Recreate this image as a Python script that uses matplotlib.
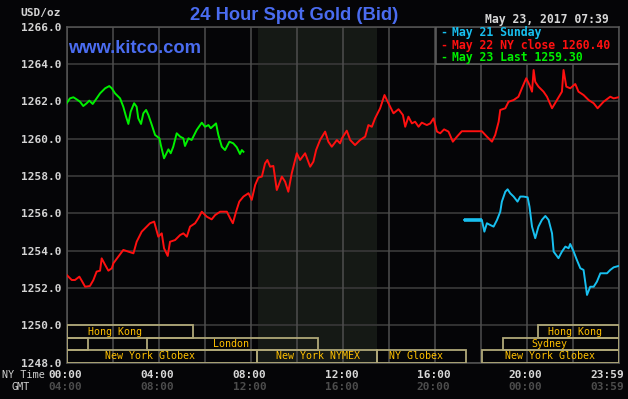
import matplotlib
matplotlib.use("Agg")
import matplotlib.pyplot as plt
from matplotlib.patches import Rectangle
import matplotlib.transforms as mtransforms

# ---------------- data ----------------
green_h = [0, 0.14, 0.29, 0.43, 0.58, 0.72, 0.87, 0.98, 1.13, 1.30, 1.45, 1.67, 1.85, 1.96,
           2.10, 2.32, 2.46, 2.58, 2.68, 2.78, 2.93, 3.04, 3.11, 3.23, 3.33, 3.45, 3.55, 3.70,
           3.84, 4.03, 4.09, 4.23, 4.42, 4.52, 4.63, 4.78, 4.93, 5.07, 5.14, 5.29, 5.43, 5.65,
           5.87, 6.01, 6.16, 6.26, 6.49, 6.59, 6.74, 6.88, 7.07, 7.24, 7.39, 7.53, 7.61, 7.68]
green_v = [1261.90, 1262.16, 1262.22, 1262.11, 1261.98, 1261.75, 1261.90, 1262.04, 1261.86,
           1262.16, 1262.43, 1262.70, 1262.82, 1262.70, 1262.43, 1262.16, 1261.71, 1261.18,
           1260.79, 1261.45, 1261.90, 1261.71, 1261.09, 1260.79, 1261.36, 1261.54, 1261.27,
           1260.73, 1260.20, 1260.02, 1259.66, 1258.95, 1259.43, 1259.22, 1259.57, 1260.29,
           1260.11, 1260.02, 1259.61, 1260.02, 1259.93, 1260.47, 1260.86, 1260.64, 1260.73,
           1260.56, 1260.82, 1260.20, 1259.57, 1259.39, 1259.84, 1259.75, 1259.54, 1259.18,
           1259.39, 1259.30]

red_h = [0, 0.22, 0.36, 0.55, 0.65, 0.80, 1.01, 1.16, 1.30, 1.45, 1.52, 1.67, 1.81, 1.96, 2.03,
         2.24, 2.46, 2.68, 2.90, 3.04, 3.26, 3.48, 3.62, 3.80, 3.98, 4.13, 4.23, 4.39, 4.49, 4.71,
         4.93, 5.07, 5.22, 5.36, 5.58, 5.72, 5.87, 6.09, 6.30, 6.45, 6.67, 6.96, 7.10, 7.22, 7.36,
         7.50, 7.68, 7.90, 8.04, 8.19, 8.33, 8.48, 8.62, 8.72, 8.84, 8.98, 9.13, 9.35, 9.49, 9.63,
         9.78, 10.00, 10.14, 10.36, 10.58, 10.72, 10.84, 11.01, 11.23, 11.37, 11.52, 11.74, 11.88,
         11.96, 12.17, 12.32, 12.53, 12.75, 12.97, 13.11, 13.26, 13.40, 13.62, 13.81, 13.98, 14.20,
         14.42, 14.61, 14.71, 14.85, 15.00, 15.14, 15.29, 15.43, 15.65, 15.80, 15.94, 16.09, 16.23,
         16.40, 16.59, 16.78, 16.96, 17.17, 17.27, 18.04, 18.26, 18.48, 18.62, 18.77, 18.84, 19.06,
         19.20, 19.42, 19.63, 19.78, 19.97, 20.11, 20.22, 20.29, 20.36, 20.50, 20.72, 20.87, 21.09,
         21.30, 21.52, 21.59, 21.71, 21.88, 22.10, 22.24, 22.46, 22.68, 22.90, 23.07, 23.33, 23.62,
         23.77, 23.98]
red_v = [1252.70, 1252.43, 1252.43, 1252.61, 1252.40, 1252.07, 1252.11, 1252.43, 1252.88, 1252.93,
         1253.59, 1253.24, 1252.93, 1253.06, 1253.33, 1253.68, 1254.04, 1253.95, 1253.86, 1254.48,
         1255.02, 1255.29, 1255.47, 1255.56, 1254.75, 1254.93, 1254.13, 1253.72, 1254.48, 1254.57,
         1254.84, 1254.93, 1254.75, 1255.29, 1255.47, 1255.74, 1256.09, 1255.82, 1255.68, 1255.91,
         1256.09, 1256.09, 1255.74, 1255.47, 1256.09, 1256.63, 1256.90, 1257.08, 1256.72, 1257.52,
         1257.92, 1257.97, 1258.68, 1258.86, 1258.50, 1258.54, 1257.25, 1257.97, 1257.70, 1257.16,
         1258.15, 1259.22, 1258.86, 1259.22, 1258.50, 1258.77, 1259.40, 1259.93, 1260.38, 1259.84,
         1259.57, 1259.93, 1259.75, 1260.02, 1260.43, 1259.93, 1259.66, 1259.93, 1260.11, 1260.73,
         1260.64, 1261.09, 1261.63, 1262.34, 1261.90, 1261.36, 1261.58, 1261.27, 1260.64, 1261.18,
         1260.82, 1260.91, 1260.64, 1260.86, 1260.73, 1260.82, 1261.09, 1260.38, 1260.29, 1260.50,
         1260.38, 1259.84, 1260.11, 1260.40, 1260.40, 1260.40, 1260.11, 1259.84, 1260.20, 1260.91,
         1261.54, 1261.63, 1261.98, 1262.07, 1262.25, 1262.70, 1263.24, 1262.88, 1262.52, 1263.68,
         1263.05, 1262.79, 1262.52, 1262.25, 1261.63, 1262.07, 1262.52, 1263.68, 1262.79, 1262.70,
         1262.93, 1262.52, 1262.34, 1262.07, 1261.90, 1261.63, 1261.98, 1262.25, 1262.16, 1262.22]

cyan_h = [17.27, 18.04, 18.15, 18.26, 18.40, 18.55, 18.70, 18.84, 18.91, 19.06, 19.16, 19.27,
          19.42, 19.59, 19.71, 19.85, 20.03, 20.11, 20.22, 20.36, 20.50, 20.65, 20.80, 20.94,
          21.09, 21.16, 21.37, 21.52, 21.67, 21.81, 21.88, 22.03, 22.17, 22.32, 22.46, 22.61,
          22.75, 22.90, 23.04, 23.19, 23.48, 23.62, 23.77, 23.98]
cyan_v = [1255.65, 1255.65, 1255.02, 1255.47, 1255.38, 1255.29, 1255.65, 1256.09, 1256.63,
          1257.16, 1257.29, 1257.08, 1256.90, 1256.63, 1256.90, 1256.90, 1256.86, 1256.36,
          1255.29, 1254.67, 1255.29, 1255.65, 1255.86, 1255.65, 1254.93, 1253.95, 1253.60,
          1253.95, 1254.22, 1254.13, 1254.36, 1253.95, 1253.50, 1253.06, 1252.97, 1251.63,
          1252.07, 1252.07, 1252.34, 1252.79, 1252.79, 1252.97, 1253.11, 1253.18]

legend_labels = ["May 21 Sunday", "May 22 NY close 1260.40", "May 23 Last 1259.30"]

y_ticks = [1248, 1250, 1252, 1254, 1256, 1258, 1260, 1262, 1264, 1266]
x_grid = [0, 2, 4, 6, 8, 10, 12, 14, 16, 18, 20, 22, 24]
time_hours = [0, 4, 8, 12, 16, 20, 23.98]
ny_labels = ["00:00", "04:00", "08:00", "12:00", "16:00", "20:00", "23:59"]
gmt_labels = ["04:00", "08:00", "12:00", "16:00", "20:00", "00:00", "03:59"]

nymex_open, nymex_close = 8.33, 13.5

sess_names = ["Hong Kong", "", "London", "New York Globex", "New York NYMEX", "NY Globex",
              "New York Globex", "Sydney", "Hong Kong"]
sess_start = [0, 0, 3.48, 0, 8.26, 13.5, 18.04, 18.98, 20.5]
sess_end = [5.48, 0.94, 10.94, 8.26, 13.5, 17.35, 23.98, 23.98, 23.98]
sess_row = [0, 1, 1, 2, 2, 2, 2, 1, 0]
sess_label_x = [2.1, 0, 7.16, 3.64, 10.9, 15.19, 20.99, 20.99, 22.07]

# ---------------- style ----------------
BG = "#050507"
MONO = "DejaVu Sans Mono"
BLUE = "#4a6cf0"
GREEN = "#00f000"
RED = "#ff1010"
CYAN = "#18c0f0"
BOXC = "#b0a878"
SESS_TXT = "#ffc000"

W, H = 628, 399
fig = plt.figure(figsize=(W / 100, H / 100), dpi=100, facecolor=BG)
L, R, T, B = 66.7, 619, 26.7, 362.7
ax = fig.add_axes([L / W, 1 - B / H, (R - L) / W, (B - T) / H], facecolor=BG)
ax.set_xlim(0, 24)
ax.set_ylim(1248, 1266)

ax.axvspan(nymex_open, nymex_close, color="#151915", zorder=0, lw=0)
for y in y_ticks:
    ax.axhline(y, color="#333333", lw=1.4, zorder=1)
for x in x_grid:
    ax.axvline(x, color="#4e4e4e", lw=1.1, zorder=1)
for s in ax.spines.values():
    s.set_color("#555555")
    s.set_linewidth(1.1)

ax.set_yticks(y_ticks)
ax.set_yticklabels([f"{v:.1f}" for v in y_ticks], fontfamily=MONO, fontweight="bold",
                   fontsize=8, color="#d4d4d4")
ax.tick_params(axis="y", length=0, pad=4)
ax.set_xticks([])

# series
ax.plot(red_h, red_v, color=RED, lw=1.4, zorder=4)
ax.plot(green_h, green_v, color=GREEN, lw=1.4, zorder=4)
ax.plot(cyan_h, cyan_v, color=CYAN, lw=1.4, zorder=4)
ax.plot(cyan_h[:2], cyan_v[:2], color=CYAN, lw=2.6, zorder=4, solid_capstyle="butt")

# session boxes
row_h = 2 / 3
for name, s, e, r, lx in zip(sess_names, sess_start, sess_end, sess_row, sess_label_x):
    yb = 1248 + (2 - r) * row_h
    ax.add_patch(Rectangle((s, yb), e - s, row_h, fill=False, edgecolor=BOXC, lw=1.3, zorder=5))
    if name:
        ax.text(lx, yb + row_h / 2, name, ha="center", va="center", fontfamily=MONO,
                fontsize=7.2, color=SESS_TXT, zorder=6)

# legend box
ax.add_patch(Rectangle((16.04 / 24, (1264 - 1248) / 18), 1 - 16.04 / 24, 2 / 18,
                       transform=ax.transAxes, facecolor=BG, edgecolor="#606060", lw=1.1,
                       zorder=7))
for i, (lab, c) in enumerate(zip(legend_labels, [CYAN, RED, GREEN])):
    yp = [32.3, 45, 57.3][i]
    fig.text(440.5 / W, 1 - yp / H, "-", color=c, fontfamily=MONO, fontweight="bold",
             fontsize=8.3, va="center", ha="left")
    fig.text(451.5 / W, 1 - yp / H, lab, color=c, fontfamily=MONO, fontweight="bold",
             fontsize=8.3, va="center", ha="left")

# x labels
trans = ax.get_xaxis_transform()
for h, ny, g in zip(time_hours, ny_labels, gmt_labels):
    ha = "right" if h > 23 else "center"
    dx = 4.2 if h > 23 else -1
    ax.annotate(ny, xy=(h, 0), xycoords=trans, xytext=(dx, -8.9), textcoords="offset points",
                ha=ha, va="center", fontfamily=MONO, fontweight="bold", fontsize=8,
                color="#d8d8d8", annotation_clip=False)
    ax.annotate(g, xy=(h, 0), xycoords=trans, xytext=(dx, -17.6), textcoords="offset points",
                ha=ha, va="center", fontfamily=MONO, fontweight="bold", fontsize=8,
                color="#4c4c4c", annotation_clip=False)

fig.text(2 / W, 1 - 375 / H, "NY Time", fontfamily=MONO, fontsize=7.3, color="#d0d0d0",
         ha="left", va="center")
fig.text(11 / W, 1 - 387 / H, "GMT", fontfamily=MONO, fontsize=7.3, color="#d0d0d0",
         ha="left", va="center")

# header texts
fig.text(294 / W, 1 - 15.3 / H, "24 Hour Spot Gold (Bid)", fontfamily="Liberation Sans",
         fontweight="bold", fontsize=13.2, color=BLUE, ha="center", va="center")
fig.text(68 / W, 1 - 48.3 / H, "www.kitco.com", fontfamily="Liberation Sans",
         fontweight="bold", fontsize=13.2, color=BLUE, ha="left", va="center")
fig.text(608.5 / W, 1 - 20 / H, "May 23, 2017 07:39", fontfamily=MONO, fontweight="bold",
         fontsize=8.3, color="#d8d8d8", ha="right", va="center")
fig.text(61 / W, 1 - 13.3 / H, "USD/oz", fontfamily=MONO, fontweight="bold",
         fontsize=8, color="#d4d4d4", ha="right", va="center")

fig.savefig("out.png", dpi=100, facecolor=BG)
